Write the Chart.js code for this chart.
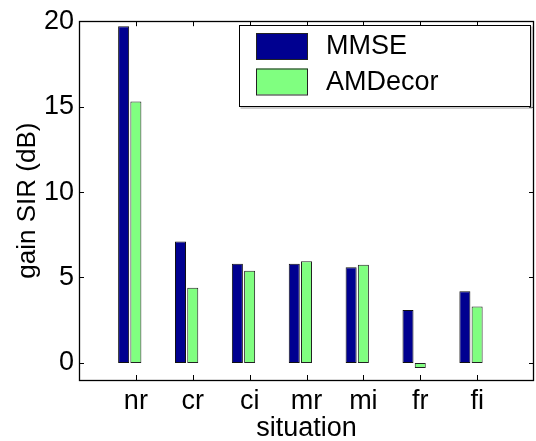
<!DOCTYPE html>
<html>
<head>
<meta charset="utf-8">
<script src="https://cdn.jsdelivr.net/npm/chart.js@4/dist/chart.umd.min.js"></script>
<style>
  html, body { margin: 0; padding: 0; background: #fff; }
  #wrap { width: 536px; height: 441px; }
</style>
</head>
<body>
<div id="wrap"><canvas id="grafico_barras" width="536" height="441"></canvas></div>
<script>
// dados
const categorias = ["nr", "cr", "ci", "mr", "mi", "fr", "fi"];
const mmse = [19.7, 7.1, 5.8, 5.8, 5.6, 3.1, 4.2];
const amdecor = [15.3, 4.4, 5.4, 5.95, 5.75, -0.3, 3.3];
const yTicks = [0, 5, 10, 15, 20];

// eixo x vai de 0 a 8, categorias em 1..7
const labels = ["", ...categorias, ""];
const comBordas = (arr) => [null, ...arr, null];

const fonte = "'Liberation Sans', Arial, Helvetica, sans-serif";

// caixa, ticks para dentro e legenda no estilo matlab
const estiloMatlab = {
  id: "estiloMatlab",
  afterDatasetsDraw(chart) {
    const { ctx, chartArea: a, scales } = chart;
    const tl = 5;
    ctx.save();
    ctx.strokeStyle = "#000";
    ctx.lineWidth = 1;
    ctx.beginPath();
    scales.x.ticks.forEach((t, i) => {
      if (!labels[i]) return;
      const px = Math.round(scales.x.getPixelForTick(i)) + 0.5;
      ctx.moveTo(px, a.bottom); ctx.lineTo(px, a.bottom - tl);
      ctx.moveTo(px, a.top); ctx.lineTo(px, a.top + tl);
    });
    scales.y.ticks.forEach((t) => {
      const py = Math.round(scales.y.getPixelForValue(t.value)) + 0.5;
      ctx.moveTo(a.left, py); ctx.lineTo(a.left + tl, py);
      ctx.moveTo(a.right, py); ctx.lineTo(a.right - tl, py);
    });
    ctx.stroke();
    ctx.lineWidth = 1.3;
    ctx.strokeRect(Math.round(a.left) + 0.5, Math.round(a.top) + 0.5,
      Math.round(a.right - a.left) - 1, Math.round(a.bottom - a.top));

    // legenda
    const itens = chart.data.datasets.filter(d => d.label);
    const bx = 239.5, by = 25.5, bw = 291, bh = 81;
    ctx.fillStyle = "#fff";
    ctx.fillRect(bx, by, bw, bh);
    ctx.strokeStyle = "#999";
    ctx.lineWidth = 1;
    ctx.beginPath();
    ctx.moveTo(bx + bw + 1.5, by + 1); ctx.lineTo(bx + bw + 1.5, by + bh + 1.5); ctx.lineTo(bx + 1, by + bh + 1.5);
    ctx.stroke();
    ctx.strokeStyle = "#000";
    ctx.strokeRect(bx, by, bw, bh);
    ctx.font = "27px " + fonte;
    ctx.textBaseline = "middle";
    ctx.textAlign = "left";
    itens.forEach((d, i) => {
      const y = 33 + i * 35.5;
      ctx.fillStyle = d.backgroundColor;
      ctx.fillRect(256, y, 52, 26);
      ctx.strokeStyle = "#222";
      ctx.strokeRect(256.5, y + 0.5, 51, 26);
      ctx.fillStyle = "#000";
      ctx.fillText(d.label, 326, y + 14);
    });
    ctx.restore();
  },
};

const grafico = new Chart(document.getElementById("grafico_barras"), {
  type: "bar",
  data: {
    labels: labels,
    datasets: [
      {
        label: "MMSE",
        data: comBordas(mmse),
        backgroundColor: "#000090",
        borderColor: "#111",
      },
      {
        label: "AMDecor",
        data: comBordas(amdecor),
        backgroundColor: "#80FF80",
        borderColor: "#222",
      },
      {
        // terceira serie vazia do grafico original (desloca os grupos)
        label: "",
        data: labels.map(() => null),
        backgroundColor: "#800000",
      },
    ],
  },
  plugins: [estiloMatlab],
  options: {
    responsive: false,
    animation: false,
    categoryPercentage: 0.646,
    barPercentage: 0.9,
    borderWidth: 1,
    borderSkipped: false,
    layout: { padding: { top: 18.8, right: 2, left: 0, bottom: 0 } },
    scales: {
      x: {
        offset: false,
        grid: { display: false, drawTicks: false },
        border: { display: false },
        ticks: { font: { family: fonte, size: 27 }, color: "#000", padding: 5, maxRotation: 0, autoSkip: false },
        title: { display: true, text: "situation", color: "#000", font: { family: fonte, size: 27, lineHeight: 0.9 }, padding: 0 },
        afterFit: (s) => { s.height = 61; s.paddingLeft = 0; s.paddingRight = 0; },
      },
      y: {
        min: -1,
        max: 20,
        grid: { display: false, drawTicks: false },
        border: { display: false },
        afterBuildTicks: (s) => { s.ticks = yTicks.map(v => ({ value: v })); },
        ticks: { font: { family: fonte, size: 27 }, color: "#000", padding: 5 },
        title: { display: true, text: "gain SIR (dB)", color: "#000", font: { family: fonte, size: 26, lineHeight: 1.2 }, padding: { top: 12, bottom: 0 } },
        afterFit: (s) => { s.width = 79; },
      },
    },
    plugins: {
      legend: { display: false },
      tooltip: { enabled: false },
    },
  },
});
</script>
</body>
</html>
